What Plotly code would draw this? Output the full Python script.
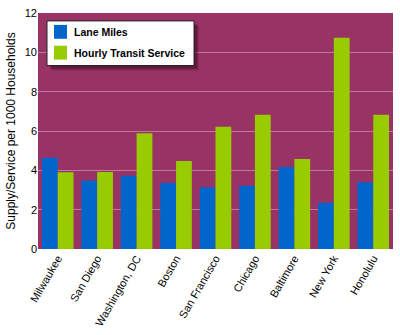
import plotly.graph_objects as go

cities = ["Milwaukee", "San Diego", "Washington, DC", "Boston", "San Francisco",
          "Chicago", "Baltimore", "New York", "Honolulu"]
lane_miles = [4.64, 3.48, 3.73, 3.36, 3.14, 3.21, 4.17, 2.35, 3.4]
transit = [3.9, 3.92, 5.88, 4.47, 6.22, 6.82, 4.57, 10.74, 6.82]
series_names = ["Lane Miles", "Hourly Transit Service"]
series_colors = ["#0066CC", "#99CC00"]
y_ticks = [0, 2, 4, 6, 8, 10, 12]

# plot area in pixels: x 38..393, y 12..250
L, R, T, B = 38, 393, 12, 250
def px(x):
    return (x - L) / (R - L)
def py(y):
    return (B - y) / (B - T)

fig = go.Figure()
for name, vals, col in zip(series_names, [lane_miles, transit], series_colors):
    fig.add_trace(go.Bar(x=cities, y=vals, name=name,
                         marker=dict(color=col, line=dict(width=0))))

shapes = []
# soft shadow
for off, alpha in [(5, 0.15), (4, 0.2), (3, 0.25)]:
    shapes.append(dict(type="rect", xref="paper", yref="paper", layer="above",
                       x0=px(47 + off), x1=px(194 + off), y0=py(65 + off), y1=py(20 + off),
                       fillcolor=f"rgba(40,0,20,{alpha})", line=dict(width=0)))
# legend box
shapes.append(dict(type="rect", xref="paper", yref="paper", layer="above",
                   x0=px(47), x1=px(194), y0=py(65), y1=py(20),
                   fillcolor="white", line=dict(color="#222222", width=1)))
annotations = []
for i, (name, col) in enumerate(zip(series_names, series_colors)):
    top = 24 + i * 21
    shapes.append(dict(type="rect", xref="paper", yref="paper", layer="above",
                       x0=px(54), x1=px(67), y0=py(top + 14), y1=py(top),
                       fillcolor=col, line=dict(width=0)))
    annotations.append(dict(xref="paper", yref="paper", x=px(72), y=py(top + 7),
                            xanchor="left", yanchor="middle", showarrow=False,
                            text=f"<b>{name}</b>",
                            font=dict(size=10.5, family="Liberation Sans, Arial, sans-serif",
                                      color="black")))

fig.update_layout(
    width=400, height=335,
    margin=dict(l=L, r=400 - R, t=T, b=335 - B),
    paper_bgcolor="white",
    plot_bgcolor="#993366",
    barmode="group",
    bargap=0.2,
    bargroupgap=0,
    font=dict(family="Arial, Liberation Sans, sans-serif", size=11, color="black"),
    showlegend=False,
    xaxis=dict(tickangle=-60, showgrid=False, ticks="", showline=False,
               tickfont=dict(size=11)),
    yaxis=dict(range=[0, 12], tickvals=y_ticks, showgrid=True,
               gridcolor="rgba(255,255,255,0.35)", gridwidth=1, zeroline=False,
               title=dict(text="Supply/Service per 1000 Households", font=dict(size=12), standoff=6),
               tickfont=dict(size=11)),
    shapes=shapes,
    annotations=annotations,
)

fig.write_html("out.html")
